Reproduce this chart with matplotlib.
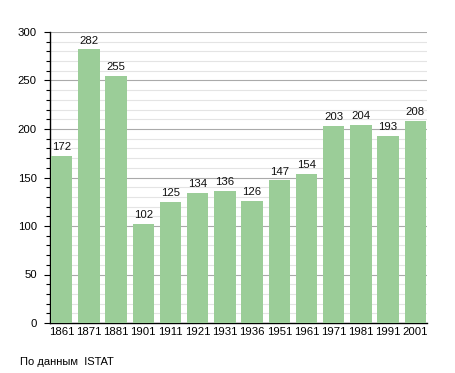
import matplotlib
matplotlib.use("Agg")
import matplotlib.pyplot as plt
from matplotlib.ticker import MultipleLocator

plt.rcParams['font.family'] = ['Liberation Sans', 'DejaVu Sans']

years = ['1861', '1871', '1881', '1901', '1911', '1921', '1931',
         '1936', '1951', '1961', '1971', '1981', '1991', '2001']
population = [172, 282, 255, 102, 125, 134, 136, 126, 147, 154, 203, 204, 193, 208]

fig = plt.figure(figsize=(4.55, 3.73), dpi=100)
ax = fig.add_axes([50 / 455, 50 / 373, 377 / 455, 291 / 373])

x = range(len(years))
ax.bar(x, population, width=0.78, color='#9bcd98', zorder=3)
for i, v in enumerate(population):
    ax.text(i, v + 4, str(v), ha='center', va='bottom', fontsize=8.2, color='#111111', zorder=4)

ax.set_xlim(-0.43, len(years) - 0.57)
ax.set_ylim(0, 300)
ax.set_xticks(list(x))
ax.set_xticklabels(years, fontsize=8.2)
ax.yaxis.set_major_locator(MultipleLocator(50))
ax.yaxis.set_minor_locator(MultipleLocator(10))
ax.tick_params(axis='y', which='major', length=4, width=0.8, labelsize=8.2, pad=5.5)
ax.tick_params(axis='y', which='minor', length=3, width=0.8)
ax.tick_params(axis='x', length=0, pad=3)

ax.grid(axis='y', which='minor', color='#e4e4e4', linewidth=0.8, zorder=0)
ax.grid(axis='y', which='major', color='#aaaaaa', linewidth=0.8, zorder=1)

for s in ['top', 'right']:
    ax.spines[s].set_visible(False)
ax.spines['left'].set_linewidth(1)
ax.spines['bottom'].set_linewidth(1)

fig.text(20 / 455, 1 - 362 / 373, 'По данным  ISTAT', fontsize=8, va='center', ha='left')

fig.savefig('out.png', dpi=100)
